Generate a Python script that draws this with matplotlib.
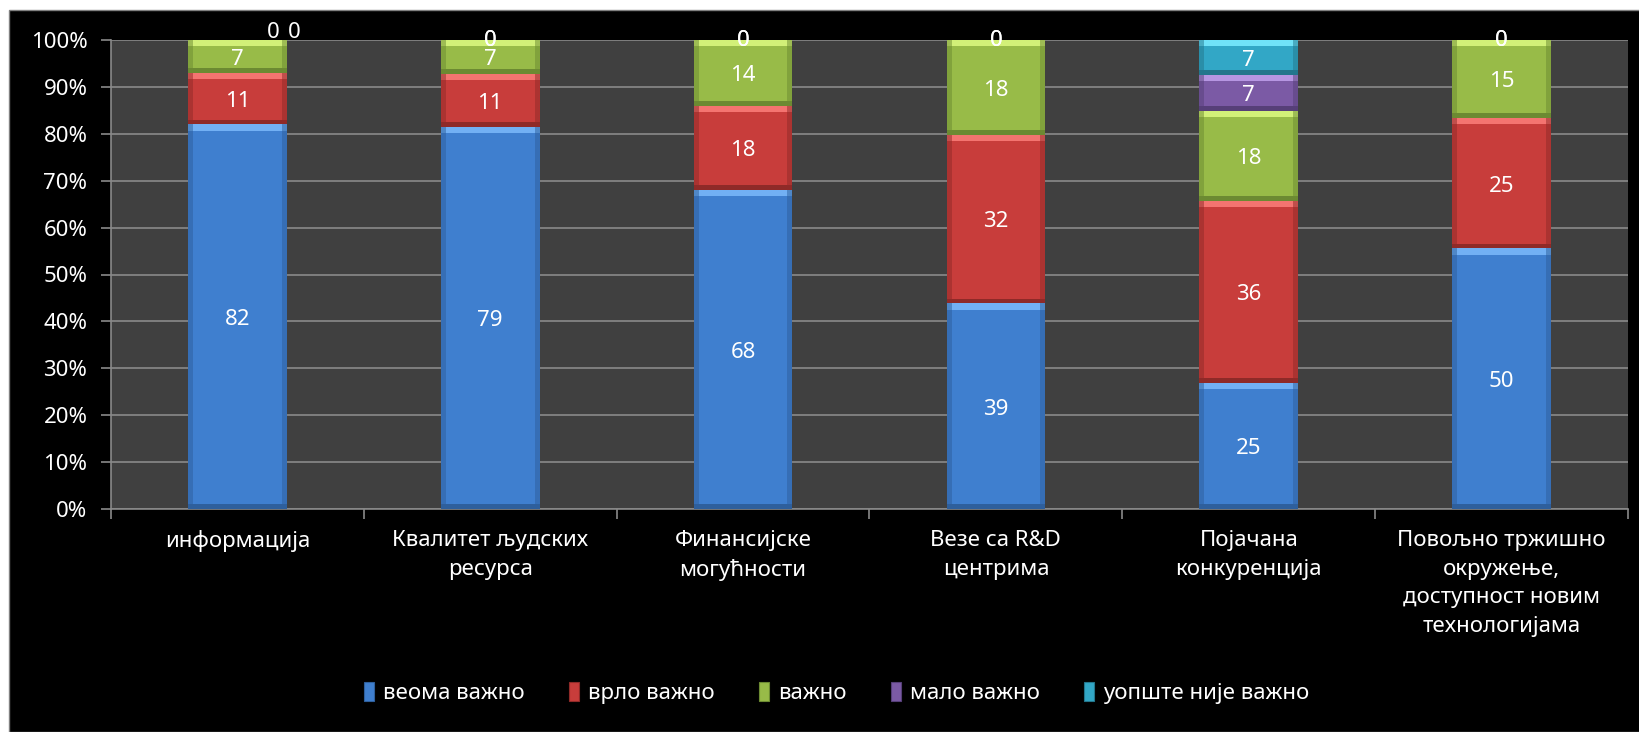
import numpy as np
import matplotlib.pyplot as plt
from matplotlib.patches import Patch, Rectangle

plt.rcParams['font.family'] = ['Noto Sans', 'DejaVu Sans']

categories = ['информација', 'Квалитет људских\nресурса', 'Финансијске\nмогућности',
              'Везе са R&D\nцентрима', 'Појачана\nконкуренција',
              'Повољно тржишно\nокружење,\nдоступност новим\nтехнологијама']
series = ['веома важно', 'врло важно', 'важно', 'мало важно', 'уопште није важно']
veoma = [82, 79, 68, 39, 25, 50]
vrlo = [11, 11, 18, 32, 36, 25]
vazno = [7, 7, 14, 18, 18, 15]
malo = [0, 0, 0, 0, 7, 0]
uopste = [0, 0, 0, 0, 7, 0]

colors = ['#3f7fcf', '#c83d3b', '#98bb48', '#7b5aa5', '#32a7c6']
light = ['#72b0f4', '#f47470', '#d2f078', '#b696e2', '#70e2f8']
dark = ['#2e5f9c', '#8f2a28', '#6c8a32', '#563f78', '#23768c']

vals = np.array([veoma, vrlo, vazno, malo, uopste], dtype=float)
pct = vals / vals.sum(axis=0) * 100

fig = plt.figure(figsize=(16.39, 7.32), dpi=100, facecolor='white')
fig.patches.append(Rectangle((9/1639, 0), 1, 1 - 10/732, transform=fig.transFigure,
                             facecolor='black', edgecolor='#808080', lw=1, zorder=-5))
ax = fig.add_axes([111/1639, 1 - 509/732, 1517/1639, 469/732])
ax.set_facecolor('#404040')

x = np.arange(len(categories))
w = 0.39
bev = 1.3
fs = 16
bottom = np.zeros(len(categories))
for k in range(len(series)):
    h = pct[k]
    ax.bar(x, h, w, bottom=bottom, color=colors[k], zorder=3, linewidth=0)
    m = h > 0
    ax.bar(x[m], bev, w, bottom=bottom[m] + h[m] - bev, color=light[k], zorder=4, linewidth=0)
    ax.bar(x[m], bev * 0.8, w, bottom=bottom[m], color=dark[k], zorder=4, linewidth=0)
    ax.bar(x[m] - w / 2, h[m], w * 0.05, bottom=bottom[m], color=dark[k], alpha=0.5, zorder=4,
           linewidth=0, align='edge')
    ax.bar(x[m] + w / 2, h[m], -w * 0.05, bottom=bottom[m], color=dark[k], alpha=0.5,
           zorder=4, linewidth=0, align='edge')
    for i in range(len(categories)):
        v = int(vals[k, i])
        if v > 0:
            ax.text(x[i], bottom[i] + h[i] / 2 - 0.6, str(v), color='white', fontsize=fs,
                    ha='center', va='center', zorder=6)
        elif i == 0:
            ax.text(x[i] + (0.14 if k == 3 else 0.225), 101.6, '0', color='white',
                    fontsize=fs, ha='center', va='center', zorder=6, clip_on=False)
        else:
            ax.text(x[i], 99.8, '0', color='white', fontsize=fs, ha='center',
                    va='center', zorder=6, clip_on=False)
    bottom += h

ax.set_xlim(-0.5, len(categories) - 0.5)
ax.set_ylim(0, 100)
ax.set_yticks(np.arange(0, 101, 10))
ax.set_yticklabels([f'{t}%' for t in range(0, 101, 10)])
ax.yaxis.grid(True, color='#8a8a8a', lw=1.2, zorder=1)
ax.set_axisbelow(True)

ax.set_xticks(np.arange(-0.5, len(categories)))
ax.set_xticklabels([])
ax.set_xticks(x, minor=True)
ax.set_xticklabels(categories, minor=True, fontsize=fs, color='white', linespacing=1.48)
ax.tick_params(axis='x', which='minor', length=0, pad=15)
ax.tick_params(axis='x', which='major', length=7, color='#8a8a8a', width=1.2)
ax.tick_params(axis='y', length=7, color='#8a8a8a', width=1.2, labelsize=fs,
               labelcolor='white', pad=10)
for s in ['top', 'right']:
    ax.spines[s].set_visible(False)
for s in ['left', 'bottom']:
    ax.spines[s].set_color('#8a8a8a')
    ax.spines[s].set_linewidth(1.2)

handles = [Patch(facecolor=c, edgecolor=d, lw=0.8) for c, d in zip(colors, dark)]
leg = fig.legend(handles, series, loc='center', bbox_to_anchor=(837/1639, 1 - 693/732),
                 ncol=5, frameon=False, fontsize=fs, handlelength=0.45, handleheight=0.9,
                 handletextpad=0.4, columnspacing=2.0)
for t in leg.get_texts():
    t.set_color('white')

fig.savefig('out.png', dpi=100, facecolor=fig.get_facecolor())
